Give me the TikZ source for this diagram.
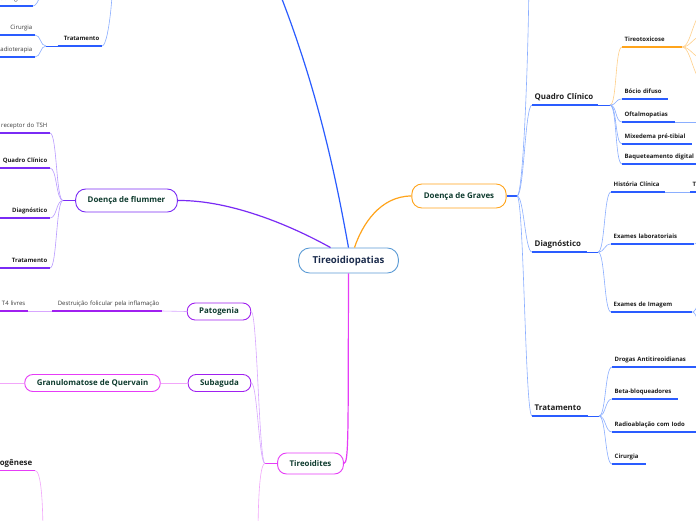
\documentclass[tikz,border=0pt]{standalone}
\usepackage{fontspec}
\setmainfont{Open Sans}
\usetikzlibrary{positioning}
\definecolor{rootline}{HTML}{5B9BD5}
\definecolor{roottext}{HTML}{1A2B4C}
\definecolor{boxtext}{HTML}{0E3B2E}
\definecolor{leaftext}{HTML}{1E1E1E}
\definecolor{notetext}{HTML}{3C3C3C}
\definecolor{mainblue}{HTML}{2A5CFF}
\definecolor{lightblue}{HTML}{8AAEFF}
\definecolor{mainorange}{HTML}{FFA41B}
\definecolor{lightorange}{HTML}{FFD08A}
\definecolor{mainpurple}{HTML}{7A2BF5}
\definecolor{lightpurple}{HTML}{B99BFF}
\definecolor{mainmagenta}{HTML}{E63CF7}
\definecolor{lightmagenta}{HTML}{F2A6FA}
\definecolor{mviolet}{HTML}{A020F0}
\definecolor{lightviolet}{HTML}{D8A6FF}

\tikzset{
  topic/.style={draw=#1, line width=0.9pt, rounded corners=8pt, fill=white,
    text=boxtext, font=\bfseries\fontsize{7.9}{9}\selectfont,
    inner xsep=12pt, inner ysep=0pt, minimum height=17pt},
  leaf/.style={inner xsep=2.5pt, inner ysep=4.2pt, text=leaftext,
    text height=4.4pt, text depth=1.3pt, font=\bfseries\fontsize{6}{7}\selectfont},
  rleaf/.style={leaf, anchor=south west, align=left},
  lleaf/.style={leaf, anchor=south east, align=right},
  note/.style={font=\fontsize{6}{7}\selectfont, text=notetext},
  big/.style={font=\bfseries\fontsize{7.9}{9}\selectfont, text height=5.7pt,
    text depth=1.6pt, inner ysep=3.6pt},
  uline/.style={line width=1.3pt},
  link/.style={line width=0.6pt},
  mainline/.style={line width=1.2pt},
  mmcurve/.style={to path={.. controls +(#1,0) and +(-#1,0) .. (\tikztotarget)}},
  mmcurve/.default=7
}

\begin{document}
\begin{tikzpicture}[x=1pt, y=-1pt]
\fill[white] (0,0) rectangle (696,520);
\useasboundingbox (0,0) rectangle (696,520);

% central topic and main branches
\node[topic=rootline, text=roottext, font=\bfseries\fontsize{9.6}{11}\selectfont,
  minimum height=25pt, rounded corners=11pt, inner xsep=14pt] (root) at (348.5,260.5) {Tireoidiopatias};
\node[topic=mainorange, minimum height=24pt, rounded corners=10pt] (graves) at (459,196) {Doença de Graves};
\node[topic=mainpurple, minimum height=23pt, rounded corners=10pt] (flummer) at (126.5,200.5) {Doença de flummer};
\node[topic=mainmagenta, minimum height=21pt, rounded corners=9pt] (tireoid) at (310.5,463.5) {Tireoidites};
\coordinate (hipo) at (266,-40);

\draw[mainline, mainblue] (root.north) .. controls (338,190) and (318,80) .. (hipo);
\draw[mainline, mainpurple] ([xshift=-18pt]root.north) .. controls (290,225) and (230,200) .. (flummer.east);
\draw[mainline, mainorange] ([xshift=6pt]root.north) .. controls (362,225) and (380,196) .. (graves.west);
\draw[mainline, mainmagenta] (root.south) .. controls (348,430) and (349,463.5) .. (tireoid.east);

% Doenca de Graves
\coordinate (gbr) at (517,196);
\coordinate (gtop) at (529,-30);
\node[rleaf, big, text width=61pt] (qcG) at (532,105) {Quadro Clínico};
\node[rleaf, big, text width=50pt] (diagG) at (532,252) {Diagnóstico};
\node[rleaf, big, text width=51pt] (tratG) at (532,416) {Tratamento};
\draw[mainline, mainblue] (graves.east) -- (gbr);
\draw[link, lightblue] (gbr) .. controls +(7,0) and +(0,60) .. (gtop);
\foreach \n in {qcG,diagG,tratG} \draw[link, lightblue] (gbr) to[mmcurve] (\n.south west);

% quadro clinico
\coordinate (qbr) at (610,105);
\node[rleaf, text width=55pt] (tireotox) at (622,47) {Tireotoxicose};
\node[rleaf, text width=41pt] (bocio) at (622,99) {Bócio difuso};
\node[rleaf, text width=48pt] (oftalmo) at (622,122) {Oftalmopatias};
\node[rleaf, text width=65pt] (mixed) at (622,144) {Mixedema pré-tibial};
\node[rleaf, text width=78pt] (baquet) at (622,164) {Baqueteamento digital};
\draw[link, mainblue] (qcG.south east) -- (qbr);
\draw[link, lightorange] (qbr) to[mmcurve] (tireotox.south west);
\foreach \n in {bocio,oftalmo,mixed,baquet} \draw[link, lightblue] (qbr) to[mmcurve] (\n.south west);
\foreach \y [count=\i] in {14,36,58,80} {
  \coordinate (tt\i) at (702,\y);
  \draw[link, lightorange] (tireotox.south east) to[mmcurve=8] (tt\i);
}
\coordinate (oftR) at (702,122);
\draw[link, lightblue] (oftalmo.south east) -- (oftR);

% diagnostico
\coordinate (dbr) at (598,252);
\node[rleaf, text width=49pt] (histclin) at (611,192) {História Clínica};
\node[rleaf] (histT) at (690,192) {T};
\node[rleaf, text width=78pt] (examlab) at (611,244) {Exames laboratoriais};
\node[rleaf, text width=76pt] (examimg) at (611,312) {Exames de Imagem};
\draw[link, mainblue] (diagG.south east) -- (dbr);
\foreach \n in {histclin,examlab,examimg} \draw[link, lightblue] (dbr) to[mmcurve] (\n.south west);
\draw[link, lightblue] (histclin.south east) -- (histT.south west);
\coordinate (el1) at (704,226);
\coordinate (ei1) at (704,294);
\coordinate (ei2) at (704,332);
\draw[link, lightblue] (examlab.south east) to[mmcurve=5] (el1);
\foreach \c in {ei1,ei2} \draw[link, lightblue] (examimg.south east) to[mmcurve=5] (\c);

% tratamento
\coordinate (trbr) at (599,416);
\node[rleaf, text width=86pt] (drogas) at (612,367) {Drogas Antitireoidianas};
\node[rleaf, text width=61pt] (betabloq) at (612,399) {Beta-bloqueadores};
\node[rleaf, text width=86pt] (radio) at (612,432) {Radioablação com Iodo};
\node[rleaf, text width=29pt] (cirG) at (612,464) {Cirurgia};
\draw[link, mainblue] (tratG.south east) -- (trbr);
\foreach \n in {drogas,betabloq,radio,cirG} \draw[link, lightblue] (trbr) to[mmcurve] (\n.south west);

\foreach \n in {qcG,diagG,tratG,bocio,oftalmo,mixed,baquet,histclin,histT,examlab,examimg,drogas,betabloq,radio,cirG}
  \draw[uline, mainblue] (\n.south west) -- (\n.south east);
\draw[uline, mainorange] (tireotox.south west) -- (tireotox.south east);

% Doenca de flummer
\coordinate (fbr) at (63,200.5);
\node[lleaf, note, text width=70pt] (recTSH) at (50,133) {receptor do TSH};
\node[lleaf, text width=60pt] (qcF) at (50,168) {Quadro Clínico};
\node[lleaf, text width=60pt] (diagF) at (50,218) {Diagnóstico};
\node[lleaf, text width=60pt] (tratF) at (50,268) {Tratamento};
\draw[link, mainpurple] (fbr) -- (flummer.west);
\foreach \n in {recTSH,qcF,diagF,tratF} {
  \draw[link, lightpurple] (fbr) to[mmcurve=-7] (\n.south east);
  \draw[uline, mainpurple] (\n.south west) -- (\n.south east);
}

% ramo azul do canto superior
\node[lleaf, text width=39pt] (tratH) at (102,46) {Tratamento};
\coordinate (hpar) at (113,-30);
\coordinate (hbr) at (46,46);
\node[lleaf, note, text width=50pt] (cirH) at (35,35) {Cirurgia};
\node[lleaf, note, text width=50pt] (radH) at (35,57) {Radioterapia};
\node[lleaf, note, text width=70pt] (usH) at (33,6) {Ultrassonografia};
\coordinate (uspar) at (44,-30);
\draw[link, lightblue] (tratH.south east) .. controls +(6,0) and +(0,30) .. (hpar);
\draw[link, mainblue] (hbr) -- (tratH.south west);
\foreach \n in {cirH,radH} \draw[link, lightblue] (hbr) to[mmcurve=-6] (\n.south east);
\draw[link, lightblue] (usH.south east) .. controls +(6,0) and +(0,15) .. (uspar);
\foreach \n in {tratH,cirH,radH,usH} \draw[uline, mainblue] (\n.south west) -- (\n.south east);

% Tireoidites
\coordinate (tbr) at (265,463.5);
\node[topic=mviolet] (patog) at (219,311.5) {Patogenia};
\node[topic=mviolet] (subag) at (219.5,383) {Subaguda};
\node[topic=mainmagenta] (querv) at (92.5,383) {Granulomatose de Quervain};
\node[lleaf, note, text width=105pt] (destr) at (162,311) {Destruição folicular pela inflamação};
\node[lleaf, note, text width=40pt] (t4) at (28,311) {T4 livres};
\node[lleaf, big, text width=60pt] (patogen) at (35,470.5) {Patogênese};
\coordinate (tbot) at (258,540);
\coordinate (pgbot) at (43,540);
\coordinate (qvL) at (-10,383);
\draw[link, mainmagenta] (tbr) -- (tireoid.west);
\draw[link, lightviolet] (patog.east) to[mmcurve=6] (tbr);
\draw[link, lightviolet] (subag.east) to[mmcurve=6] (tbr);
\draw[link, lightmagenta] (tbr) .. controls +(-6,0) and +(0,-30) .. (tbot);
\draw[link, lightviolet] (destr.south east) -- (patog.west);
\draw[link, lightviolet] (t4.south east) -- (destr.south west);
\draw[link, lightmagenta] (querv.east) -- (subag.west);
\draw[link, lightmagenta] (querv.west) -- (qvL);
\draw[link, lightmagenta] (patogen.south east) .. controls +(6,0) and +(0,-40) .. (pgbot);
\foreach \n in {destr,t4} \draw[uline, mviolet] (\n.south west) -- (\n.south east);
\draw[uline, mainmagenta] (patogen.south west) -- (patogen.south east);
\end{tikzpicture}
\end{document}
